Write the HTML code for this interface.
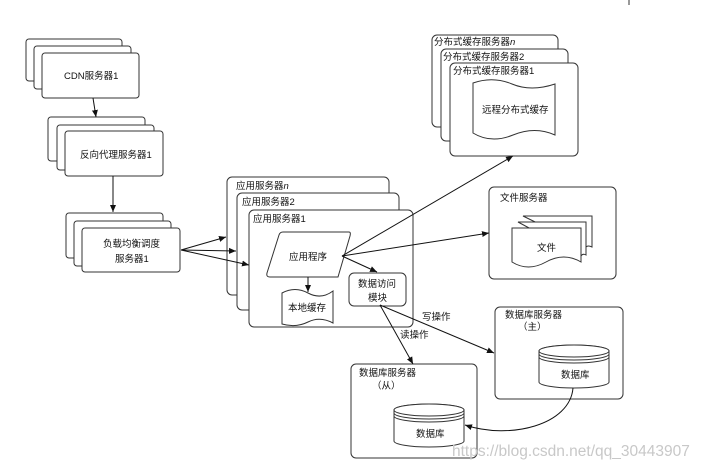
<!DOCTYPE html>
<html><head><meta charset="utf-8"><style>
html,body{margin:0;padding:0;background:#fff;}
svg{display:block;}
text{font-family:"Liberation Sans","Noto Sans CJK SC",sans-serif;font-size:9.5px;fill:#111;}
</style></head><body>
<svg width="704" height="468" viewBox="0 0 704 468" xmlns="http://www.w3.org/2000/svg">
<defs>
<marker id="a" markerWidth="8" markerHeight="8" refX="7" refY="4" orient="auto" markerUnits="userSpaceOnUse"><path d="M0,1 L7,4 L0,7 z" fill="#111"/></marker>
</defs>
<g fill="#fff" stroke="#333" stroke-width="1">
<!-- CDN -->
<rect x="26" y="39" width="96" height="42" rx="3"/>
<rect x="34" y="46" width="97" height="43" rx="3"/>
<rect x="42" y="53" width="97" height="45" rx="3"/>
<!-- RP -->
<rect x="48" y="117" width="97" height="44" rx="3"/>
<rect x="57" y="125" width="97" height="45" rx="3"/>
<rect x="65" y="131" width="98" height="45" rx="3"/>
<!-- LB -->
<rect x="66" y="213" width="97" height="45" rx="3"/>
<rect x="74" y="221" width="97" height="45" rx="3"/>
<rect x="82" y="228" width="98" height="44" rx="3"/>
<!-- App servers -->
<rect x="227" y="177" width="162" height="118" rx="5"/>
<rect x="237" y="193" width="162" height="117" rx="5"/>
<rect x="249" y="210" width="164" height="117" rx="5"/>
<!-- cache servers -->
<rect x="432" y="35" width="126" height="92" rx="5"/>
<rect x="441" y="49" width="127" height="92" rx="5"/>
<rect x="450" y="63" width="128" height="93" rx="5"/>
<!-- file server -->
<rect x="489" y="187" width="127" height="92" rx="5"/>
<!-- db master / slave -->
<rect x="495" y="307" width="128" height="92" rx="5"/>
<rect x="351" y="364" width="126" height="94" rx="5"/>
<!-- app program parallelogram -->
<path d="M283,232 L349,232 Q351,232 350,236 L338,277 L270,277 Q266,277 267,273 L279,235 Q280,232 283,232 z"/>
<!-- local cache wavy -->
<path d="M282,293 Q295,286 308,293 T333,291 L333,323 Q320,316 308,322 T282,324 z"/>
<!-- data access module -->
<rect x="349" y="273" width="57" height="33" rx="5"/>
<!-- remote cache wavy -->
<path d="M473,83 Q493,76 512,84 T555,84 L555,135 Q535,126 513,135 T473,133 z"/>
<!-- files -->
<path d="M523,216 L592,216 L592,247 Q588,245 586,247 Z"/>
<path d="M518,222 L586,222 L586,255 Q583,253 581,256 Z"/>
<path d="M512,228 L581,228 L581,262 Q564,252 546,262 T512,262 z"/>
<!-- cylinders -->
<path d="M539,351 A35,6 0 0 1 609,351 L609,382 A35,6 0 0 1 539,382 z"/>
<ellipse cx="574" cy="351" rx="35" ry="6"/>
<path d="M539,354 A35,6 0 0 0 609,354 M539,357 A35,6 0 0 0 609,357" fill="none"/>
<path d="M394,410 A35,6 0 0 1 464,410 L464,441 A35,6 0 0 1 394,441 z"/>
<ellipse cx="429" cy="410" rx="35" ry="6"/>
<path d="M394,413 A35,6 0 0 0 464,413 M394,416 A35,6 0 0 0 464,416" fill="none"/>
</g>
<g stroke="#111" stroke-width="1" fill="none" marker-end="url(#a)">
<line x1="93" y1="98" x2="96" y2="117"/>
<line x1="113" y1="176" x2="113" y2="212"/>
<line x1="181" y1="250" x2="226" y2="237"/>
<line x1="181" y1="250" x2="236" y2="251"/>
<line x1="181" y1="250" x2="249" y2="265"/>
<line x1="308" y1="277" x2="308" y2="292"/>
<line x1="342" y1="256" x2="377" y2="272"/>
<line x1="342" y1="256" x2="513" y2="156"/>
<line x1="342" y1="256" x2="489" y2="233"/>
<line x1="380" y1="305" x2="494" y2="353"/>
<line x1="380" y1="305" x2="413" y2="364"/>
<path d="M573,388 C570,425 510,440 465,425"/>
</g>
<text x="64" y="79">CDN服务器1</text>
<text x="80" y="158">反向代理服务器1</text>
<text x="103" y="247">负载均衡调度</text>
<text x="115" y="262">服务器1</text>
<text x="236" y="189">应用服务器<tspan font-style="italic">n</tspan></text>
<text x="242" y="205">应用服务器2</text>
<text x="253" y="222">应用服务器1</text>
<text x="289" y="260">应用程序</text>
<text x="288" y="311">本地缓存</text>
<text x="358" y="287">数据访问</text>
<text x="368" y="301">模块</text>
<text x="434" y="45">分布式缓存服务器<tspan font-style="italic">n</tspan></text>
<text x="443" y="60">分布式缓存服务器2</text>
<text x="453" y="74">分布式缓存服务器1</text>
<text x="482" y="113">远程分布式缓存</text>
<text x="500" y="201">文件服务器</text>
<text x="537" y="251">文件</text>
<text x="505" y="318">数据库服务器</text>
<text x="518" y="330">（主）</text>
<text x="561" y="378">数据库</text>
<text x="359" y="376">数据库服务器</text>
<text x="372" y="389">（从）</text>
<text x="416" y="437">数据库</text>
<text x="422" y="320">写操作</text>
<text x="400" y="338">读操作</text>
<text x="452" y="456" style="font-size:15.5px;fill:#c8c8c8">https://blog.csdn.net/qq_30443907</text>
<line x1="629" y1="0" x2="629" y2="5" stroke="#333"/>
</svg>
</body></html>
